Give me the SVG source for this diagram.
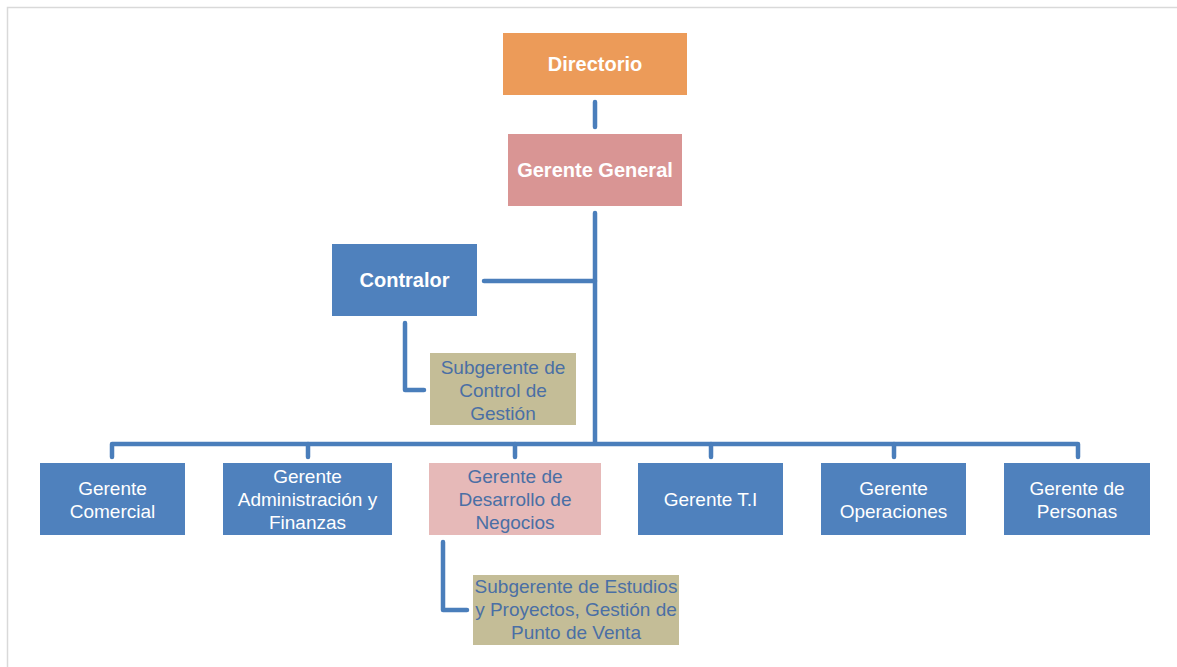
<svg xmlns="http://www.w3.org/2000/svg" width="1177" height="667" viewBox="0 0 1177 667">
<style>
.t{font-family:"Liberation Sans",Arial,sans-serif;font-size:19px;text-anchor:middle}
.b{font-weight:bold;fill:#fff;font-size:20px}
.w{fill:#fff}
.u{fill:#4a6fa5}
.c{fill:none;stroke:#4a7ebb;stroke-width:4.5;stroke-linecap:round;stroke-linejoin:round}
</style>
<rect x="0" y="0" width="1177" height="667" fill="#fff"/>
<path d="M7.5 667 V7.5 H1177" fill="none" stroke="#d9d9d9" stroke-width="1.5"/>
<g id="connectors">
<path class="c" d="M595 102 V127"/>
<path class="c" d="M595 213 V443"/>
<path class="c" d="M484 281 H595"/>
<path class="c" d="M405 323 V390 H424"/>
<path class="c" d="M112 457 V444 H1078 V457"/>
<path class="c" d="M308 444 V457"/>
<path class="c" d="M515 444 V457"/>
<path class="c" d="M711 444 V457"/>
<path class="c" d="M894 444 V457"/>
<path class="c" d="M443 542 V610 H467"/>
</g>
<g id="directorio"><rect x="503" y="33" width="184" height="62" fill="#ec9b59"/><text class="t b" x="595" y="71">Directorio</text></g>
<g id="gerente-general"><rect x="508" y="134" width="174" height="72" fill="#d99594"/><text class="t b" x="595" y="177">Gerente General</text></g>
<g id="contralor"><rect x="332" y="244" width="145" height="72" fill="#4f81bd"/><text class="t b" x="404.5" y="287">Contralor</text></g>
<g id="subgerente-control"><rect x="430" y="353" width="146" height="72" fill="#c4bd97"/><text class="t u" x="503" y="374">Subgerente de</text><text class="t u" x="503" y="397">Control de</text><text class="t u" x="503" y="420">Gestión</text></g>
<g id="gerente-comercial"><rect x="40" y="463" width="145" height="72" fill="#4f81bd"/><text class="t w" x="112.5" y="495">Gerente</text><text class="t w" x="112.5" y="518">Comercial</text></g>
<g id="gerente-admin"><rect x="223" y="463" width="169" height="72" fill="#4f81bd"/><text class="t w" x="307.5" y="483">Gerente</text><text class="t w" x="307.5" y="506">Administración y</text><text class="t w" x="307.5" y="529">Finanzas</text></g>
<g id="gerente-desarrollo"><rect x="429" y="463" width="172" height="72" fill="#e6b9b8"/><text class="t u" x="515" y="483">Gerente de</text><text class="t u" x="515" y="506">Desarrollo de</text><text class="t u" x="515" y="529">Negocios</text></g>
<g id="gerente-ti"><rect x="638" y="463" width="145" height="72" fill="#4f81bd"/><text class="t w" x="710.5" y="506">Gerente T.I</text></g>
<g id="gerente-operaciones"><rect x="821" y="463" width="145" height="72" fill="#4f81bd"/><text class="t w" x="893.5" y="495">Gerente</text><text class="t w" x="893.5" y="518">Operaciones</text></g>
<g id="gerente-personas"><rect x="1004" y="463" width="146" height="72" fill="#4f81bd"/><text class="t w" x="1077" y="495">Gerente de</text><text class="t w" x="1077" y="518">Personas</text></g>
<g id="subgerente-estudios"><rect x="473" y="575" width="206" height="70" fill="#c4bd97"/><text class="t u" x="576" y="593">Subgerente de Estudios</text><text class="t u" x="576" y="616">y Proyectos, Gestión de</text><text class="t u" x="576" y="639">Punto de Venta</text></g>
</svg>
